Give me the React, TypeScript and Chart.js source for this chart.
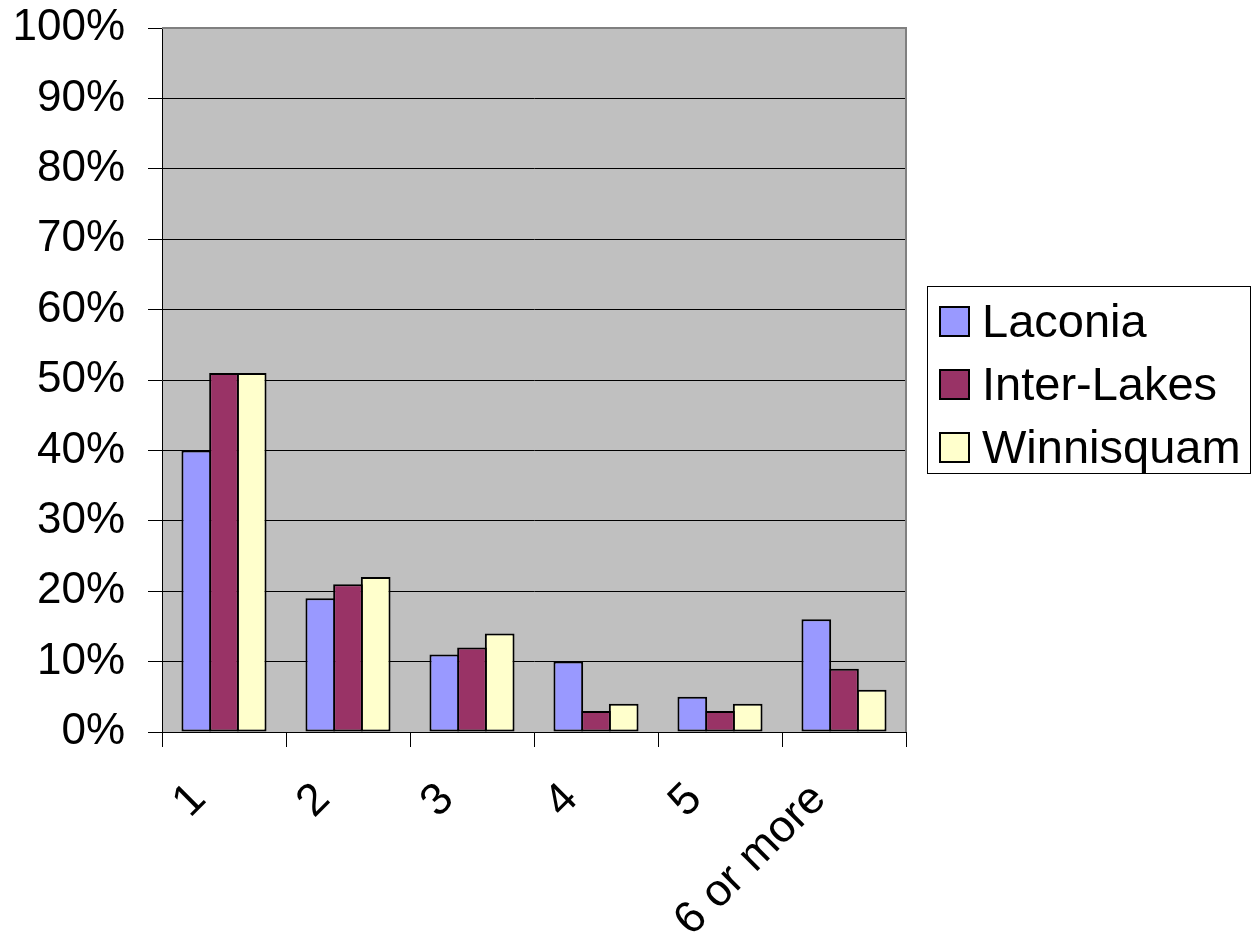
import React, { useEffect, useRef } from "react";
import { Chart, registerables } from "chart.js";

Chart.register(...registerables);

const categories = ["1", "2", "3", "4", "5", "6 or more"];
const laconia = [40, 19, 11, 10, 5, 16];
const interLakes = [51, 21, 12, 3, 3, 9];
const winnisquam = [51, 22, 14, 4, 4, 6];
const seriesNames = ["Laconia", "Inter-Lakes", "Winnisquam"];
const seriesColors = ["#9999FF", "#993366", "#FFFFCC"];
const yTicks = [0, 10, 20, 30, 40, 50, 60, 70, 80, 90, 100];

const FONT = "Arial, 'Liberation Sans', sans-serif";

const plotBg = {
  id: "plotBg",
  beforeDraw(chart: any) {
    const { ctx, chartArea } = chart;
    ctx.save();
    ctx.fillStyle = "#C0C0C0";
    ctx.fillRect(chartArea.left, chartArea.top, chartArea.right - chartArea.left, chartArea.bottom - chartArea.top);
    ctx.restore();
  },
  beforeDatasetsDraw(chart: any) {
    const { ctx, chartArea } = chart;
    ctx.save();
    ctx.strokeStyle = "#808080";
    ctx.lineWidth = 2;
    ctx.beginPath();
    ctx.moveTo(chartArea.left, chartArea.top);
    ctx.lineTo(chartArea.right, chartArea.top);
    ctx.lineTo(chartArea.right, chartArea.bottom);
    ctx.stroke();
    ctx.restore();
  },
};

export default function App() {
  const ref = useRef<HTMLCanvasElement | null>(null);
  useEffect(() => {
    if (!ref.current) return;
    const values = [laconia, interLakes, winnisquam];
    const chart = new Chart(ref.current, {
      type: "bar",
      data: {
        labels: categories,
        datasets: values.map((d, i) => ({
          label: seriesNames[i],
          data: d,
          backgroundColor: seriesColors[i],
          borderColor: "#000",
          borderWidth: 2,
          borderSkipped: false,
          categoryPercentage: 0.67,
          barPercentage: 1.072,
        })),
      },
      options: {
        responsive: false,
        animation: false,
        devicePixelRatio: 1,
        layout: { padding: { left: 0, right: 348, top: 28, bottom: 0 } },
        plugins: { legend: { display: false }, tooltip: { enabled: false } },
        scales: {
          x: {
            offset: true,
            grid: {
              offset: true,
              drawOnChartArea: false,
              drawTicks: true,
              tickLength: 15,
              color: "#000",
              lineWidth: 1,
            },
            border: { color: "#000", width: 1 },
            ticks: {
              autoSkip: false,
              minRotation: 45,
              maxRotation: 45,
              padding: 26,
              labelOffset: -25,
              color: "#000",
              font: { family: FONT, size: 45 },
            },
            afterFit(scale: any) {
              scale.height = 208;
              scale.paddingLeft = 0;
              scale.paddingRight = 0;
            },
          },
          y: {
            min: 0,
            max: 100,
            afterBuildTicks(scale: any) {
              scale.ticks = yTicks.map((v) => ({ value: v }));
            },
            grid: {
              color: "#000",
              lineWidth: 1,
              drawTicks: true,
              tickLength: 14,
            },
            border: { color: "#000", width: 1 },
            ticks: {
              padding: 23,
              color: "#000",
              font: { family: FONT, size: 44 },
              callback: (v: any) => v + "%",
            },
            afterFit(scale: any) {
              scale.width = 162;
              scale.paddingTop = 0;
              scale.paddingBottom = 0;
            },
          },
        },
      },
      plugins: [plotBg],
    });
    return () => chart.destroy();
  }, []);

  return (
    <div style={{ position: "absolute", left: 0, top: 0, width: 1254, height: 940, background: "#fff" }}>
      <canvas ref={ref} width={1254} height={940} style={{ position: "absolute", left: 0, top: 0 }} />
      <div
        style={{
          position: "absolute",
          left: 927,
          top: 286,
          width: 322,
          height: 186,
          border: "1px solid #000",
          background: "#fff",
          fontFamily: FONT,
          fontSize: 47,
          color: "#000",
        }}
      >
        {seriesNames.map((n, i) => (
          <div
            key={n}
            style={{
              position: "absolute",
              left: 11,
              top: 34 + i * 63 - 31,
              height: 62,
              display: "flex",
              alignItems: "center",
              whiteSpace: "nowrap",
            }}
          >
            <span
              style={{
                display: "inline-block",
                width: 27,
                height: 27,
                border: "2px solid #000",
                background: seriesColors[i],
                marginRight: 12,
              }}
            />
            <span style={{ lineHeight: "62px" }}>{n}</span>
          </div>
        ))}
      </div>
    </div>
  );
}
